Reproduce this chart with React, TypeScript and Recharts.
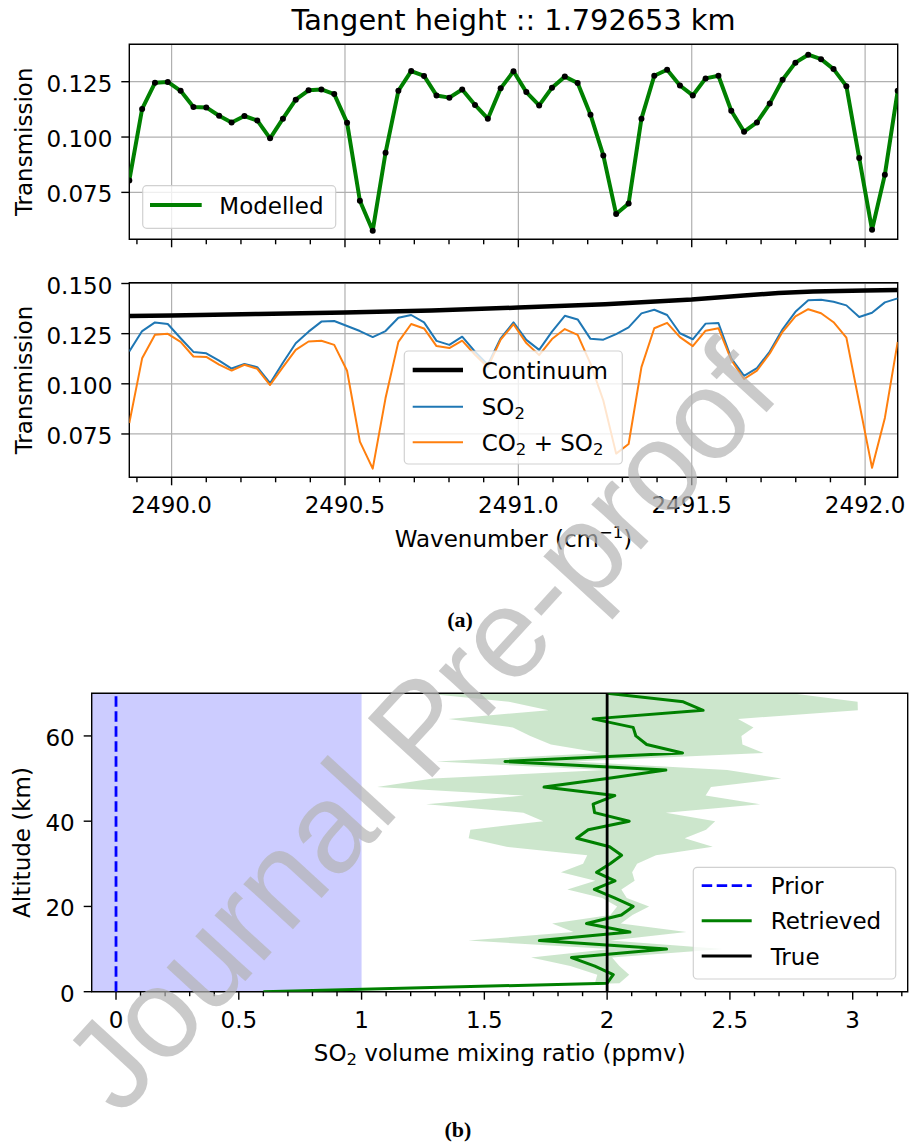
import React from 'react';
import { ComposedChart, Line, Area, XAxis, YAxis, CartesianGrid, ReferenceArea } from 'recharts';

const FONT = "'DejaVu Sans', 'Noto Sans', sans-serif";

// ---------- Panel (a) data ----------
const wavenumber = [
  2489.878, 2489.915, 2489.952, 2489.989, 2490.026, 2490.063, 2490.100, 2490.137, 2490.173, 2490.210,
  2490.247, 2490.284, 2490.321, 2490.358, 2490.395, 2490.432, 2490.469, 2490.506, 2490.543, 2490.580,
  2490.617, 2490.654, 2490.691, 2490.728, 2490.764, 2490.801, 2490.838, 2490.875, 2490.912, 2490.949,
  2490.986, 2491.023, 2491.060, 2491.097, 2491.134, 2491.171, 2491.208, 2491.245, 2491.282, 2491.318,
  2491.355, 2491.392, 2491.429, 2491.466, 2491.503, 2491.540, 2491.577, 2491.614, 2491.651, 2491.688,
  2491.725, 2491.762, 2491.799, 2491.836, 2491.873, 2491.909, 2491.946, 2491.983, 2492.020, 2492.057,
  2492.094,
];

const modelled = [
  0.0804, 0.1127, 0.1245, 0.1249, 0.1209, 0.1136, 0.1134, 0.1096, 0.1066, 0.1095,
  0.1075, 0.0994, 0.1083, 0.1169, 0.1211, 0.1215, 0.1194, 0.1065, 0.0712, 0.0577,
  0.0929, 0.1209, 0.1298, 0.1276, 0.1188, 0.1178, 0.1215, 0.1145, 0.1083, 0.1220,
  0.1297, 0.1203, 0.1143, 0.1223, 0.1273, 0.1244, 0.1101, 0.0917, 0.0652, 0.0700,
  0.1083, 0.1277, 0.1304, 0.1233, 0.1188, 0.1265, 0.1277, 0.1119, 0.1024, 0.1066,
  0.1151, 0.1259, 0.1336, 0.1372, 0.1352, 0.1307, 0.1230, 0.0905, 0.0581, 0.0830,
  0.1209,
];

const co2PlusSo2 = modelled;

const so2Only = [
  0.1161, 0.1263, 0.1306, 0.1298, 0.1227, 0.1159, 0.1152, 0.1116, 0.1076, 0.1099,
  0.1083, 0.1003, 0.1105, 0.1202, 0.1260, 0.1310, 0.1313, 0.1288, 0.1263, 0.1233,
  0.1263, 0.1329, 0.1343, 0.1306, 0.1214, 0.1194, 0.1235, 0.1160, 0.1095, 0.1227,
  0.1306, 0.1219, 0.1169, 0.1260, 0.1339, 0.1321, 0.1224, 0.1220, 0.1248, 0.1281,
  0.1351, 0.1369, 0.1343, 0.1252, 0.1222, 0.1300, 0.1303, 0.1127, 0.1040, 0.1078,
  0.1161, 0.1272, 0.1359, 0.1417, 0.1419, 0.1409, 0.1391, 0.1333, 0.1354, 0.1406,
  0.1426,
];

const continuumWn = [2489.878, 2490.0, 2490.25, 2490.5, 2490.75, 2491.0, 2491.25, 2491.5, 2491.65, 2491.75, 2491.85, 2492.0, 2492.094];
const continuumVal = [0.1338, 0.1341, 0.1348, 0.1356, 0.1366, 0.1380, 0.1397, 0.1420, 0.1440, 0.1453, 0.1460, 0.1465, 0.1468];

const wnDomain: [number, number] = [2489.878, 2492.094];
const wnMajor = [2490.0, 2490.5, 2491.0, 2491.5, 2492.0];
const wnMinor = [2489.9, 2490.1, 2490.2, 2490.3, 2490.4, 2490.6, 2490.7, 2490.8, 2490.9, 2491.1, 2491.2, 2491.3, 2491.4, 2491.6, 2491.7, 2491.8, 2491.9];
const topYDomain: [number, number] = [0.0538, 0.1419];
const topYTicks = [0.075, 0.1, 0.125];
const midYDomain: [number, number] = [0.0534, 0.1504];
const midYTicks = [0.075, 0.1, 0.125, 0.15];

// ---------- Panel (b) data ----------
const altitude = [0, 2, 4, 6, 8, 10, 12, 14, 16, 18, 20, 22, 24, 26, 28, 30, 32, 34, 36, 38, 40, 42, 44, 46, 48, 50, 52, 54, 56, 58, 60, 62, 64, 66, 68, 70];
const retrieved = [
  0.60, 2.00, 2.025, 1.95, 1.855, 2.242, 1.724, 2.093, 1.916, 2.058, 2.106, 2.03, 1.948, 2.032, 1.957, 2.012, 2.059, 2.01,
  1.876, 1.923, 2.09, 1.949, 1.943, 2.031, 1.743, 2.00, 2.239, 1.584, 2.307, 2.161, 2.117, 2.106, 1.943, 2.391, 2.31, 2.00,
];
const retrievedErr = [
  0.15, 0.05, 0.065, 0.10, 0.165, 0.23, 0.29, 0.23, 0.14, 0.045, 0.065, 0.05, 0.11, 0.08, 0.145, 0.11, 0.14, 0.42,
  0.44, 0.48, 0.35, 0.29, 0.68, 0.37, 0.68, 0.71, 0.25, 0.28, 0.33, 0.39, 0.43, 0.49, 0.59, 0.63, 0.71, 0.75,
];
const priorVmr = 0;
const priorErr = 1;
const trueVmr = 2;

const vmrDomain: [number, number] = [-0.099, 3.224];
const vmrMajor = [0, 0.5, 1, 1.5, 2, 2.5, 3];
const vmrMinor = [0.1, 0.2, 0.3, 0.4, 0.6, 0.7, 0.8, 0.9, 1.1, 1.2, 1.3, 1.4, 1.6, 1.7, 1.8, 1.9, 2.1, 2.2, 2.3, 2.4, 2.6, 2.7, 2.8, 2.9, 3.1, 3.2];
const altDomain: [number, number] = [0, 70];
const altTicks = [0, 20, 40, 60];

// ---------- tables ----------
const topRows = wavenumber.map((wn, i) => ({ wn, modelled: modelled[i] }));
const midRows = wavenumber.map((wn, i) => ({ wn, so2: so2Only[i], both: co2PlusSo2[i] }));
const contRows = continuumWn.map((wn, i) => ({ wn, cont: continuumVal[i] }));
const profRows = altitude.map((alt, i) => ({
  alt,
  ret: retrieved[i],
  band: [retrieved[i] - retrievedErr[i], retrieved[i] + retrievedErr[i]],
  prior: priorVmr,
  priorBand: [priorVmr - priorErr, priorVmr + priorErr],
  truth: trueVmr,
}));

const near = (arr: number[], v: number) => arr.some((m) => Math.abs(m - v) < 1e-6);

const makeBottomTick = (majors: number[], fmt: ((v: number) => string) | null, majorLen: number, minorLen: number) =>
  (p: any) => {
    const v = p.payload.value;
    const major = near(majors, v);
    return (
      <g key={`xt-${v}`}>
        <line x1={p.x} x2={p.x} y1={p.y} y2={p.y + (major ? majorLen : minorLen)} stroke="#000" strokeWidth={1.4} />
        {major && fmt ? (
          <text x={p.x} y={p.y + 36} textAnchor="middle" fontFamily={FONT} fontSize={23} fill="#000">{fmt(v)}</text>
        ) : null}
      </g>
    );
  };

const makeLeftTick = (fmt: (v: number) => string, len: number) => (p: any) => {
  const v = p.payload.value;
  return (
    <g key={`yt-${v}`}>
      <line x1={p.x} x2={p.x - len} y1={p.y} y2={p.y} stroke="#000" strokeWidth={1.4} />
      <text x={p.x - 17} y={p.y + 10} textAnchor="end" fontFamily={FONT} fontSize={23} fill="#000">{fmt(v)}</text>
    </g>
  );
};

const sortNum = (a: number[]) => [...a].sort((x, y) => x - y);

function Legend({ x, y, w, h, items, sampleX0, sampleX1, textX }: any) {
  return (
    <g>
      <rect x={x} y={y} width={w} height={h} rx={4} ry={4} fill="rgba(255,255,255,0.8)" stroke="rgba(204,204,204,0.9)" strokeWidth={1.2} />
      {items.map((it: any, i: number) => (
        <g key={i}>
          <line x1={sampleX0} x2={sampleX1} y1={it.y} y2={it.y} stroke={it.color} strokeWidth={it.width} strokeDasharray={it.dash || undefined} />
          <text x={textX} y={it.y + 8.5} fontFamily={FONT} fontSize={23} fill="#000">{it.label}</text>
        </g>
      ))}
    </g>
  );
}

const sub = (base: string, s: string, rest = '') => (
  <>
    {base}
    <tspan dy={4} fontSize={16.5}>{s}</tspan>
    <tspan dy={-4}>{rest}</tspan>
  </>
);

export default function App() {
  return (
    <div style={{ position: 'absolute', left: 0, top: 0, width: 909, height: 1145, background: '#fff', overflow: 'hidden' }}>
      {/* Top panel */}
      <div style={{ position: 'absolute', left: 0, top: 0 }}>
        <ComposedChart width={909} height={260} data={topRows} margin={{ top: 44.3, right: 11.3, bottom: 10.7, left: 69.3 }}>
          <CartesianGrid stroke="#b0b0b0" strokeWidth={1.2} verticalValues={wnMajor} horizontalValues={topYTicks} />
          <XAxis type="number" dataKey="wn" domain={wnDomain} allowDataOverflow ticks={sortNum([...wnMajor, ...wnMinor])} interval={0}
            tickSize={0} tickMargin={0} tickLine={false} axisLine={false} height={10} tick={makeBottomTick(wnMajor, null, 8, 5)} />
          <YAxis type="number" domain={topYDomain} allowDataOverflow ticks={topYTicks} interval={0}
            tickSize={0} tickMargin={0} tickLine={false} axisLine={false} width={60} tick={makeLeftTick((v) => v.toFixed(3), 8)} />
          <Line type="linear" dataKey="modelled" stroke="#008000" strokeWidth={4} strokeLinejoin="round"
            dot={{ r: 3, fill: '#000', stroke: 'none' }} isAnimationActive={false} />
          <ReferenceArea x1={wnDomain[0]} x2={wnDomain[1]} y1={topYDomain[0]} y2={topYDomain[1]} fill="none" fillOpacity={0}
            stroke="#000" strokeWidth={1.4} ifOverflow="visible" />
        </ComposedChart>
      </div>

      {/* Middle panel */}
      <div style={{ position: 'absolute', left: 0, top: 260 }}>
        <ComposedChart width={909} height={340} data={midRows} margin={{ top: 22.7, right: 11.3, bottom: 82.7, left: 69.3 }}>
          <CartesianGrid stroke="#b0b0b0" strokeWidth={1.2} verticalValues={wnMajor} horizontalValues={midYTicks} />
          <XAxis type="number" dataKey="wn" domain={wnDomain} allowDataOverflow ticks={sortNum([...wnMajor, ...wnMinor])} interval={0}
            tickSize={0} tickMargin={0} tickLine={false} axisLine={false} height={40} tick={makeBottomTick(wnMajor, (v) => v.toFixed(1), 8, 5)} />
          <YAxis type="number" domain={midYDomain} allowDataOverflow ticks={midYTicks} interval={0}
            tickSize={0} tickMargin={0} tickLine={false} axisLine={false} width={60} tick={makeLeftTick((v) => v.toFixed(3), 8)} />
          <Line type="linear" data={contRows} dataKey="cont" stroke="#000" strokeWidth={4.5} dot={false} isAnimationActive={false} />
          <Line type="linear" dataKey="so2" stroke="#1f77b4" strokeWidth={2} strokeLinejoin="round" dot={false} isAnimationActive={false} />
          <Line type="linear" dataKey="both" stroke="#ff7f0e" strokeWidth={2} strokeLinejoin="round" dot={false} isAnimationActive={false} />
          <ReferenceArea x1={wnDomain[0]} x2={wnDomain[1]} y1={midYDomain[0]} y2={midYDomain[1]} fill="none" fillOpacity={0}
            stroke="#000" strokeWidth={1.4} ifOverflow="visible" />
        </ComposedChart>
      </div>

      {/* Bottom panel */}
      <div style={{ position: 'absolute', left: 0, top: 600 }}>
        <ComposedChart layout="vertical" width={909} height={545} data={profRows} margin={{ top: 93.3, right: 1.3, bottom: 113.3, left: 31.7 }}>
          <XAxis type="number" domain={vmrDomain} allowDataOverflow ticks={sortNum([...vmrMajor, ...vmrMinor])} interval={0}
            tickSize={0} tickMargin={0} tickLine={false} axisLine={false} height={40} tick={makeBottomTick(vmrMajor, (v) => String(v), 8, 4.5)} />
          <YAxis type="number" dataKey="alt" domain={altDomain} allowDataOverflow reversed ticks={altTicks} interval={0}
            tickSize={0} tickMargin={0} tickLine={false} axisLine={false} width={60} tick={makeLeftTick((v) => String(v), 8)} />
          <Area type="linear" dataKey="priorBand" fill="#0000ff" fillOpacity={0.2} stroke="none" isAnimationActive={false} />
          <Area type="linear" dataKey="band" fill="#008000" fillOpacity={0.2} stroke="none" isAnimationActive={false} />
          <Line type="linear" dataKey="prior" stroke="#0000ff" strokeWidth={2.8} strokeDasharray="10.5 4.5" dot={false} isAnimationActive={false} />
          <Line type="linear" dataKey="ret" stroke="#008000" strokeWidth={3} strokeLinejoin="round" dot={false} isAnimationActive={false} />
          <Line type="linear" dataKey="truth" stroke="#000" strokeWidth={2.8} dot={false} isAnimationActive={false} />
          <ReferenceArea x1={vmrDomain[0]} x2={vmrDomain[1]} y1={altDomain[0]} y2={altDomain[1]} fill="none" fillOpacity={0}
            stroke="#000" strokeWidth={1.4} ifOverflow="visible" />
        </ComposedChart>
      </div>

      {/* Overlay: titles, labels, legends, captions, watermark */}
      <svg width={909} height={1145} style={{ position: 'absolute', left: 0, top: 0, pointerEvents: 'none' }}>
        <text x={513.5} y={30} textAnchor="middle" fontFamily={FONT} fontSize={28.8} fill="#000">Tangent height :: 1.792653 km</text>
        <text transform="translate(31.5,141.8) rotate(-90)" textAnchor="middle" fontFamily={FONT} fontSize={23} fill="#000">Transmission</text>
        <text transform="translate(31.5,380) rotate(-90)" textAnchor="middle" fontFamily={FONT} fontSize={23} fill="#000">Transmission</text>
        <text transform="translate(30,842.5) rotate(-90)" textAnchor="middle" fontFamily={FONT} fontSize={23} fill="#000">Altitude (km)</text>
        <text x={513.5} y={547} textAnchor="middle" fontFamily={FONT} fontSize={23} fill="#000">
          Wavenumber (cm<tspan dy={-9} fontSize={16.5}>−1</tspan><tspan dy={9}>)</tspan>
        </text>
        <text x={499.7} y={1060.5} textAnchor="middle" fontFamily={FONT} fontSize={23} fill="#000">
          {sub('SO', '2', ' volume mixing ratio (ppmv)')}
        </text>

        <Legend x={142.7} y={185.7} w={193} h={42.6} sampleX0={150} sampleX1={201.7} textX={219.3}
          items={[{ y: 205, color: '#008000', width: 4, label: 'Modelled' }]} />
        <Legend x={404.3} y={351} w={218} h={113} sampleX0={412.7} sampleX1={463} textX={481.7}
          items={[
            { y: 370, color: '#000', width: 4.5, label: 'Continuum' },
            { y: 406.7, color: '#1f77b4', width: 2, label: sub('SO', '2') },
            { y: 442.3, color: '#ff7f0e', width: 2, label: <>{'CO'}<tspan dy={4} fontSize={16.5}>2</tspan><tspan dy={-4}>{' + SO'}</tspan><tspan dy={4} fontSize={16.5}>2</tspan></> },
          ]} />
        <Legend x={693.3} y={867.3} w={202.4} h={111.7} sampleX0={701.7} sampleX1={751.7} textX={770.7}
          items={[
            { y: 885.7, color: '#0000ff', width: 2.8, dash: '10.5 4.5', label: 'Prior' },
            { y: 920.7, color: '#008000', width: 3, label: 'Retrieved' },
            { y: 956, color: '#000', width: 2.8, label: 'True' },
          ]} />

        <text x={460} y={627} textAnchor="middle" fontFamily="'Liberation Serif', 'DejaVu Serif', serif" fontWeight="bold" fontSize={22} fill="#000">(a)</text>
        <text x={458} y={1137} textAnchor="middle" fontFamily="'Liberation Serif', 'DejaVu Serif', serif" fontWeight="bold" fontSize={22} fill="#000">(b)</text>

        <text transform="translate(120,1118) rotate(-47.5)" fontFamily="'Liberation Sans', Arial, sans-serif" fontSize={127}
          fill="#b4b4b4" fillOpacity={0.7}>Journal Pre-proof</text>
      </svg>
    </div>
  );
}
